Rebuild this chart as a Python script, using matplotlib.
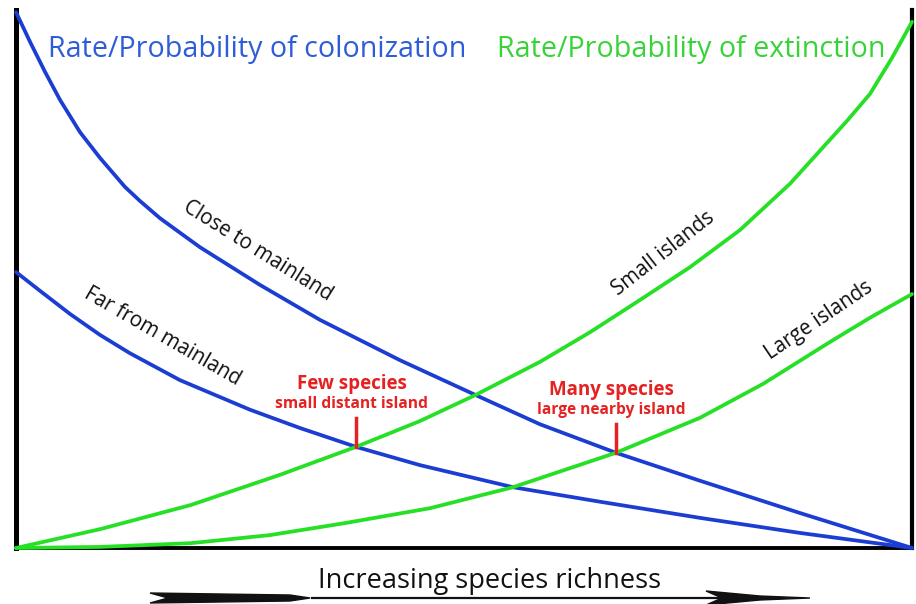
import matplotlib
matplotlib.use("Agg")
import matplotlib.pyplot as plt
from matplotlib.patches import Polygon

# species richness (0-100) vs rate (0-100)
close_x = [0, 1.56, 3.24, 4.91, 7.14, 9.38, 12.17, 13.84, 16.07, 18.30, 20.54, 27.23, 33.93, 42.86,
           51.34, 58.48, 66.96, 76.34, 87.5, 100]
close_y = [99.6, 94.1, 88.5, 83.3, 77.3, 72.5, 67.1, 64.5, 61.3, 58.6, 55.9, 48.9, 42.4, 34.9,
           28.4, 23.0, 17.7, 12.5, 6.5, 0]

far_x = [0, 2.68, 6.03, 9.38, 12.72, 18.30, 26.12, 31.70, 37.95, 45.09, 55.47, 65.18, 76.34, 87.5, 100]
far_y = [51.3, 47.8, 43.5, 39.6, 36.2, 31.2, 25.7, 22.3, 18.8, 15.4, 11.3, 8.6, 5.6, 2.8, 0]

small_x = [0, 9.38, 19.53, 29.46, 37.95, 45.09, 51.23, 58.48, 64.06, 69.64, 75.22, 80.80,
           86.38, 92.75, 95.31, 97.77, 100]
small_y = [0, 3.5, 8.0, 13.6, 18.8, 23.6, 28.4, 34.6, 40.1, 46.1, 52.2, 59.1,
           67.7, 79.4, 84.4, 91.1, 97.8]

large_x = [0, 9.38, 19.53, 28.35, 36.61, 46.21, 55.47, 66.96, 76.34, 83.37, 90.85, 95.31, 100]
large_y = [0, 0.2, 0.9, 2.4, 4.6, 7.4, 11.3, 17.7, 24.2, 30.5, 38.3, 42.8, 47.2]

# equilibrium points
eq_x = [37.95, 66.96]
eq_y = [18.8, 17.7]
eq_title = ["Few species", "Many species"]
eq_sub = ["small distant island", "large nearby island"]

BLUE = "#1b3dd2"
BLUE_TXT = "#2f5cd8"
GREEN = "#25e025"
GREEN_TXT = "#38d338"
RED = "#e52222"
FONT = "Open Sans"

W, H = 916, 604
fig = plt.figure(figsize=(W / 100, H / 100), dpi=100)
ax = fig.add_axes([16 / W, (H - 548) / H, 896 / W, 538 / H])
ax.set_xlim(0, 100)
ax.set_ylim(0, 100)
ax.set_xticks([])
ax.set_yticks([])
ax.spines["top"].set_visible(False)
ax.spines["left"].set_linewidth(3.6)
ax.spines["bottom"].set_linewidth(2.8)
ax.spines["right"].set_linewidth(3)

for xs, ys, c in [(close_x, close_y, BLUE), (far_x, far_y, BLUE),
                  (small_x, small_y, GREEN), (large_x, large_y, GREEN)]:
    ax.plot(xs, ys, color=c, lw=2.7, clip_on=False, solid_capstyle="round",
            solid_joinstyle="round", zorder=3)

# red markers at the equilibria
for x, y, t, s in zip(eq_x, eq_y, eq_title, eq_sub):
    ax.plot([x, x], [y, y + 5.3], color=RED, lw=2.5, zorder=4)
    ax.text(x - 0.5, y + 11.6, t, color=RED, fontsize=13.5, fontweight="bold",
            ha="center", va="center", family=FONT)
    ax.text(x - 0.5, y + 7.9, s, color=RED, fontsize=11.2, fontweight="bold",
            ha="center", va="center", family=FONT)

# curve labels
labels = [("Close to mainland", 27.0, 55.3, -32),
          ("Far from mainland", 16.4, 39.4, -30),
          ("Small islands", 72.2, 54.8, 38),
          ("Large islands", 89.6, 42.4, 34)]
for t, x, y, rot in labels:
    ax.text(x, y, t, fontsize=14.8, rotation=rot, rotation_mode="anchor",
            ha="center", va="center", color="#111111", family=FONT)

ax.text(3.6, 92.6, "Rate/Probability of colonization", color=BLUE_TXT,
        fontsize=20.6, ha="left", va="center", family=FONT)
ax.text(97.0, 92.6, "Rate/Probability of extinction", color=GREEN_TXT,
        fontsize=20.6, ha="right", va="center", family=FONT)

fig.text(490 / W, 1 - 581 / H, "Increasing species richness", fontsize=19.5,
         ha="center", va="center", family=FONT, color="#111111")


def px(pts):
    return [(a / W, 1 - b / H) for a, b in pts]


# arrow under the axis
fig.patches.append(Polygon(px([(150, 593), (290, 595), (310, 598), (290, 601), (150, 603), (168, 598)]),
                           closed=True, color="#111111", transform=fig.transFigure))
fig.add_artist(plt.Line2D([312 / W, 720 / W], [1 - 598 / H, 1 - 598 / H], color="#111111", lw=1.6))
fig.patches.append(Polygon(px([(706, 591), (760, 596), (810, 598), (760, 600), (706, 605), (722, 598)]),
                           closed=True, color="#111111", transform=fig.transFigure))

fig.savefig("out.png", dpi=100)
